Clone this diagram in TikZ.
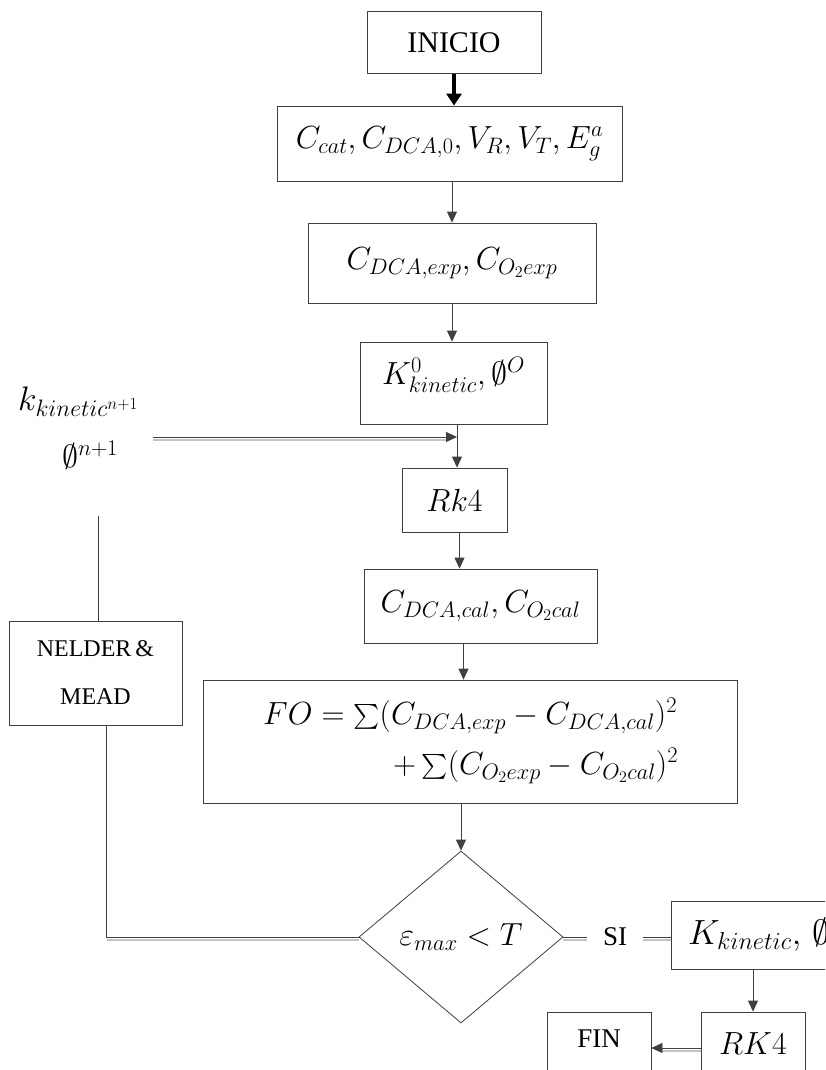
\RequirePackage{fix-cm}
\documentclass[tikz,border=0pt]{standalone}
\usepackage{amsmath}
\usepackage{exscale}
\usepackage{fontspec}
\setmainfont{Liberation Serif}
\usetikzlibrary{arrows.meta,shapes.geometric,calc}
\definecolor{ln}{HTML}{404040}
\definecolor{sh}{HTML}{C4C4C4}
\newcommand{\mf}{\fontsize{32}{38}\selectfont}
\begin{document}
\begin{tikzpicture}[x=1pt,y=-1pt,
  box/.style={draw=ln, line width=0.8pt, inner sep=0pt, align=center},
  arr/.style={draw=ln, line width=0.8pt, -{Triangle[length=11pt,width=10pt]}},
  tarr/.style={draw=black, line width=3.2pt, -{Triangle[length=12pt,width=15pt]}},
  shd/.style={draw=sh, line width=1.2pt},
  con/.style={draw=ln, line width=0.8pt}]
\useasboundingbox (0,0) rectangle (825,1070);
\fill[white] (0,0) rectangle (825,1070);
\clip (0,0) rectangle (825,1070);

% main column
\node[box, minimum width=174pt, minimum height=62pt, font=\fontsize{30}{36}\selectfont] (inicio) at (454,42.5) {INICIO};
\node[box, minimum width=345pt, minimum height=75pt, font=\mf] (in) at (449.5,143.5) {$C_{cat}, C_{DCA,0}, V_R, V_T, E_g^a$};
\node[box, minimum width=288pt, minimum height=80pt, font=\mf] (exp) at (452,263) {$C_{DCA,exp}, C_{O_2 exp}$};
\node[box, minimum width=187pt, minimum height=82pt, text depth=24pt, font=\mf] (k0) at (453.5,383) {$K^0_{kinetic}, \emptyset^{O}$};
\node[box, minimum width=105pt, minimum height=64pt, font=\mf] (rk) at (454.5,500) {$Rk4$};
\node[box, minimum width=233pt, minimum height=74pt, font=\mf] (cal) at (480.5,606) {$C_{DCA,cal}, C_{O_2 cal}$};
\node[box, minimum width=534pt, minimum height=123pt] (fo) at (470,741.5) {};
\node[font=\mf, anchor=west, inner sep=0pt] (fo1) at (263,716) {$FO = \sum(C_{DCA,exp} - C_{DCA,cal})^2$};
\node[font=\mf, anchor=west, inner sep=0pt] (fo2) at (393,766) {$+ \sum(C_{O_2 exp} - C_{O_2 cal})^2$};
\node[draw=ln, line width=0.8pt, shape=diamond, inner sep=0pt, minimum width=204pt, minimum height=172pt, font=\mf] (dia) at (461,937) {$\varepsilon_{max} < T$};

% right branch
\node[font=\fontsize{27}{32}\selectfont, inner xsep=16pt, inner ysep=0pt] (si) at (615,937) {SI};
\node[box, minimum height=68pt, text width=236pt, inner xsep=17pt, align=left, font=\fontsize{35}{40}\selectfont] (kfin) at (806,935) {$K_{kinetic},\,\emptyset$};
\node[box, minimum width=104pt, minimum height=64pt, font=\mf] (rkf) at (753,1044) {$RK4$};
\node[box, minimum width=104pt, minimum height=64pt, text depth=10pt, font=\fontsize{27}{32}\selectfont] (fin) at (599,1044) {FIN};

% left loop
\node[box, minimum width=173pt, minimum height=104pt, font=\fontsize{24}{48}\selectfont] (nm) at (95.5,673) {NELDER\,\&\\MEAD};
\node[font=\fontsize{34}{40}\selectfont, anchor=west, inner sep=0pt] (kl) at (18,402) {$k_{kinetic^{n+1}}$};
\node[font=\mf, inner sep=0pt] (pl) at (90,455) {$\emptyset^{n+1}$};
\coordinate (ls) at (153,437);
\coordinate (j) at (457,437);
\coordinate (ns) at (98,516);

% connectors main column
\draw[tarr] (inicio.south) -- (inicio.south |- in.north);
\draw[arr] (in.south -| exp.north) -- (exp.north);
\draw[arr] (exp.south) -- (exp.south |- k0.north);
\draw[arr] (k0.south -| j) -- (rk.north -| j);
\draw[arr] ($(rk.south)+(5,0)$) -- ($(rk.south |- cal.north)+(5,0)$);
\draw[arr] ($(cal.south)+(-17,0)$) -- ($(cal.south |- fo.north)+(-17,0)$);
\draw[arr] (fo.south -| dia.north) -- (dia.north);

% feedback into main column
\draw[shd] ($(ls)+(0,3)$) -- ($(j)+(-8,3)$);
\draw[arr] (ls) -- (j);

% loop through Nelder & Mead
\draw[con] (ns) -- (ns |- nm.north);
\draw[shd] ($(nm.south |- dia.west)+(11,3)$) -- ($(dia.west)+(0,3)$);
\draw[con] ($(nm.south)+(11,0)$) |- (dia.west);

% SI branch
\draw[shd] ($(dia.east)+(0,3)$) -- ($(si.west)+(0,3)$);
\draw[con] (dia.east) -- (si.west);
\draw[shd] ($(si.east)+(0,3)$) -- ($(si.east -| kfin.west)+(0,3)$);
\draw[con] (si.east) -- (si.east -| kfin.west);
\draw[arr] (kfin.south -| rkf.north) -- (rkf.north);
\draw[shd] ($(rkf.west)+(0,7)$) -- ($(rkf.west -| fin.east)+(8,7)$);
\draw[arr] ($(rkf.west)+(0,4)$) -- ($(rkf.west -| fin.east)+(0,4)$);
\end{tikzpicture}
\end{document}
